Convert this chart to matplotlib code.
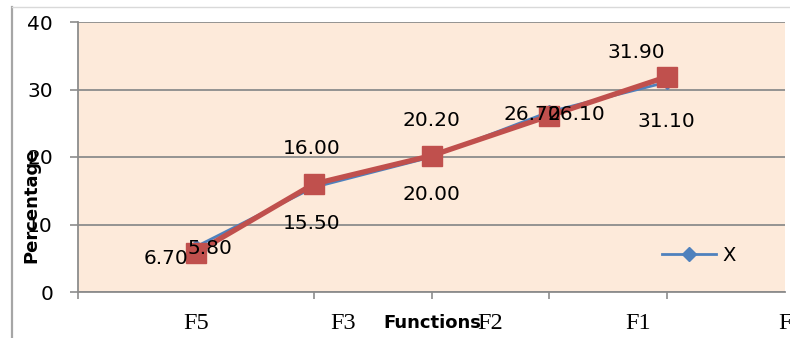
import matplotlib
matplotlib.use("Agg")
import matplotlib.pyplot as plt
from matplotlib.lines import Line2D

categories = ["F5", "F3", "F2", "", "F1"]
x_values = [6.70, 15.50, 20.00, 26.70, 31.10]
y_values = [5.80, 16.00, 20.20, 26.10, 31.90]
tick_labels = ["F5", "F3", "F2", "F1", "F"]
tick_label_pos = [1, 2.25, 3.5, 4.75, 6]
yticks = [0, 10, 20, 30, 40]

BLUE = "#4F81BD"
RED = "#C0504D"
PEACH = "#FDEADA"
GRID = "#8C8C8C"

fig = plt.figure(figsize=(7.9, 3.38), dpi=100)
ax = fig.add_axes([78/790, 1-292/338, 707/790, 270/338])
ax.set_facecolor(PEACH)

xs = list(range(1, len(categories) + 1))
blue, = ax.plot(xs, x_values, color=BLUE, lw=2.0, marker="D", ms=7,
                label="X", zorder=3)
ax.plot(xs, y_values, color=RED, lw=3.8, marker="s", ms=14, zorder=4)

ax.set_xlim(0, 6)
ax.set_ylim(0, 40)

# tick marks (minor, integer positions) and labels (major, offset positions)
ax.set_xticks(range(0, 7), minor=True)
ax.set_xticks(tick_label_pos)
ax.set_xticklabels(tick_labels, family="Liberation Serif", fontsize=17.5)
ax.tick_params(axis="x", which="major", length=0, pad=15)
ax.tick_params(axis="x", which="minor", length=5, width=1.2, color=GRID, direction="out")
ax.set_yticks(yticks)
ax.tick_params(axis="y", length=6, width=1.2, color=GRID, pad=12, labelsize=14.5)

ax.yaxis.grid(True, color=GRID, lw=1.3)
ax.set_axisbelow(True)
for s in ["top", "right"]:
    ax.spines[s].set_visible(False)
for s in ["left", "bottom"]:
    ax.spines[s].set_color(GRID)
    ax.spines[s].set_linewidth(1.3)

# data labels
blue_off = [(-30, -12), (-2, -36), (0, -37), (-17, -3), (-1, -39)]
red_off = [(14, 4), (-2, 35), (0, 35), (27, 1), (-31, 24)]
for xi, v, o in zip(xs, x_values, blue_off):
    ax.annotate(f"{v:.2f}", (xi, v), xytext=o, textcoords="offset pixels",
                ha="center", va="center", fontsize=14.5, zorder=5)
for xi, v, o in zip(xs, y_values, red_off):
    ax.annotate(f"{v:.2f}", (xi, v), xytext=o, textcoords="offset pixels",
                ha="center", va="center", fontsize=14.5, zorder=5)

ax.set_xlabel("Functions", fontsize=13, fontweight="bold")
ax.xaxis.label.set_va("center")
ax.xaxis.set_label_coords((432-78)/707, (292-323)/270)
ax.set_ylabel("Percentage", fontsize=13, fontweight="bold")
ax.yaxis.label.set_va("center")
ax.yaxis.set_label_coords((31-78)/707, (292-205)/270)

ax.legend(handles=[blue], loc="center", bbox_to_anchor=(0.878, 0.137),
          frameon=False, fontsize=14, handlelength=2.8, handletextpad=0.3)

# outer frame
fig.add_artist(Line2D([12/790, 12/790], [0, 1-7/338], color="#A6A6A6", lw=1.6,
                      transform=fig.transFigure))
fig.add_artist(Line2D([12/790, 1], [1-7/338, 1-7/338], color="#D9D9D9", lw=1.0,
                      transform=fig.transFigure))

fig.savefig("out.png", dpi=100)
